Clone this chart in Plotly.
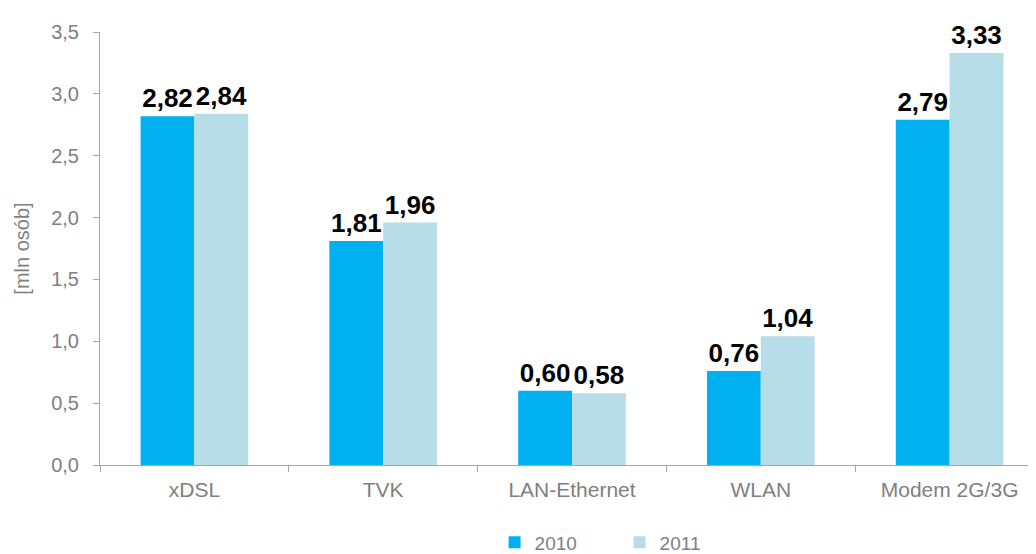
import plotly.graph_objects as go

categories = ["xDSL", "TVK", "LAN-Ethernet", "WLAN", "Modem 2G/3G"]
values_2010 = [2.82, 1.81, 0.60, 0.76, 2.79]
values_2011 = [2.84, 1.96, 0.58, 1.04, 3.33]
y_ticks = [0, 0.5, 1.0, 1.5, 2.0, 2.5, 3.0, 3.5]

font_family = "Arial, Liberation Sans, sans-serif"
grey = "#7f7f7f"
label_font = dict(size=26, color="black", family=font_family, weight="bold")

fig = go.Figure()
fig.add_trace(go.Bar(
    name="2010", x=categories, y=values_2010,
    marker=dict(color="#00b0f0", line=dict(width=0)),
    texttemplate="%{y:.2f}", textposition="outside",
    textfont=label_font, cliponaxis=False,
))
fig.add_trace(go.Bar(
    name="2011", x=categories, y=values_2011,
    marker=dict(color="#b7dde8", line=dict(width=0)),
    texttemplate="%{y:.2f}", textposition="outside",
    textfont=label_font, cliponaxis=False,
))

# the page body adds an 8px offset, margins compensate for it
fig.update_layout(
    width=1036, height=554,
    margin=dict(l=92, r=0, t=24, b=95),
    plot_bgcolor="white", paper_bgcolor="white",
    separators=",.",
    barmode="group", bargap=0.43, bargroupgap=0,
    font=dict(family=font_family, color=grey, size=20),
    legend=dict(
        orientation="h", x=0.418, xanchor="left", y=-0.179, yanchor="middle",
        font=dict(size=19, color=grey), itemwidth=30, entrywidth=80,
    ),
)
fig.update_xaxes(
    range=[-0.5, 4.5], automargin=False,
    showline=True, linecolor="#a6a6a6", linewidth=1,
    tickson="boundaries", ticks="outside", ticklen=6, tickcolor="#a6a6a6",
    tickfont=dict(size=21, color=grey), ticklabelstandoff=6,
)
fig.update_yaxes(
    range=[0, 3.5], tickvals=y_ticks, tickformat=".1f", automargin=False,
    showline=True, linecolor="#a6a6a6", linewidth=1, showgrid=False, zeroline=False,
    ticks="outside", ticklen=6, tickcolor="#a6a6a6",
    tickfont=dict(size=20, color=grey), ticklabelstandoff=10,
    title=dict(text="[mln osób]", font=dict(size=20, color=grey), standoff=16),
)

fig.write_html("out.html")
